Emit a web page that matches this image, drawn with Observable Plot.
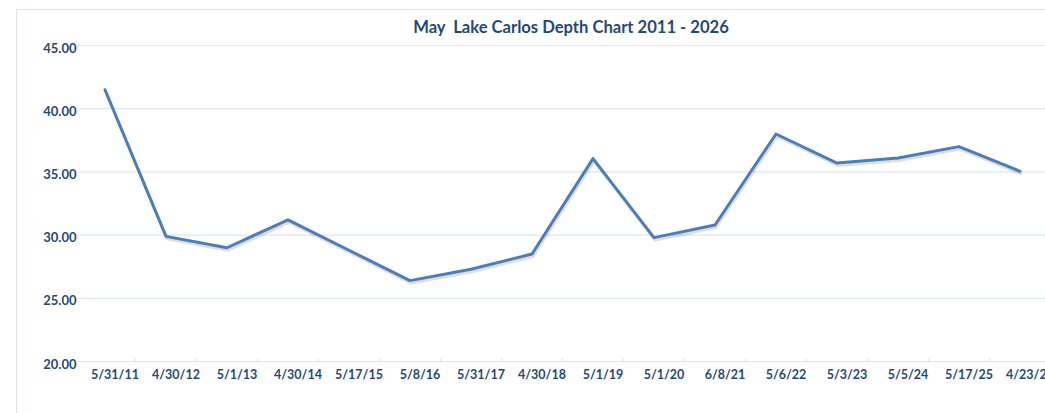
<!DOCTYPE html>
<html>
<head>
<meta charset="utf-8">
<script src="https://cdn.jsdelivr.net/npm/d3@7"></script>
<script src="https://cdn.jsdelivr.net/npm/@observablehq/plot@0.6"></script>
<style>
  html, body { margin: 0; padding: 0; background: #fff; overflow: hidden; }
  #wrap { position: relative; width: 1045px; height: 413px; overflow: hidden; }
  #frame { position: absolute; left: 16px; top: 9px; width: 1200px; height: 600px; border: 1px solid #dae4f1; box-sizing: border-box; }
  #title { position: absolute; left: 321px; width: 500px; top: 17px; text-align: center;
           font-family: Lato, "Open Sans", sans-serif; font-weight: bold; font-size: 16.6px; color: #1f497d; white-space: pre; }
  #chart { position: absolute; left: 0; top: 0; width: 1060px; }
  #chart svg { max-width: none !important; }
</style>
</head>
<body>
<div id="wrap">
  <div id="frame"></div>
  <div id="title">May  Lake Carlos Depth Chart 2011 - 2026</div>
  <div id="chart"></div>
</div>
<script>
const dates = ["5/31/11","4/30/12","5/1/13","4/30/14","5/17/15","5/8/16","5/31/17","4/30/18","5/1/19","5/1/20","6/8/21","5/6/22","5/3/23","5/5/24","5/17/25","4/23/26"];
const depths = [41.5, 29.9, 29.0, 31.2, 28.8, 26.4, 27.3, 28.5, 36.05, 29.8, 30.8, 38.0, 35.7, 36.1, 37.0, 35.05];
const yTicks = [20, 25, 30, 35, 40, 45];

const data = dates.map((d, i) => ({date: d, depth: depths[i]}));
const labelColor = "#1f497d";
const gridColor = "#dce6f2";

const chart = Plot.plot({
  width: 1060,
  height: 413,
  marginLeft: 74,
  marginRight: 10,
  marginTop: 45,
  marginBottom: 52,
  style: {fontFamily: "Lato, 'Open Sans', sans-serif", fontWeight: "bold", fontSize: "12.5px", color: labelColor, background: "transparent", maxWidth: "none"},
  x: {type: "band", domain: dates, padding: 0, label: null},
  y: {domain: [20, 45], label: null},
  marks: [
    Plot.ruleY(yTicks, {stroke: gridColor, strokeWidth: 1.2, insetLeft: 4}),
    Plot.ruleX(dates, {x: d => d, y1: 20, y2: 20.2, dx: 30.5, stroke: gridColor, strokeWidth: 1.2}),
    Plot.axisY(yTicks, {tickSize: 0, tickPadding: 0, dx: 2, dy: 3, tickFormat: d => d.toFixed(2), fill: labelColor, fontSize: 13}),
    Plot.axisX(dates, {tickSize: 0, tickPadding: 9, dx: 10, fill: labelColor, label: null}),
    Plot.line(data, {x: "date", y: "depth", stroke: "#000", strokeOpacity: 0.13, strokeWidth: 3, dx: 1, dy: 2.5}),
    Plot.line(data, {x: "date", y: "depth", stroke: "#4a7ebb", strokeWidth: 3})
  ]
});
document.getElementById("chart").appendChild(chart);
</script>
</body>
</html>
